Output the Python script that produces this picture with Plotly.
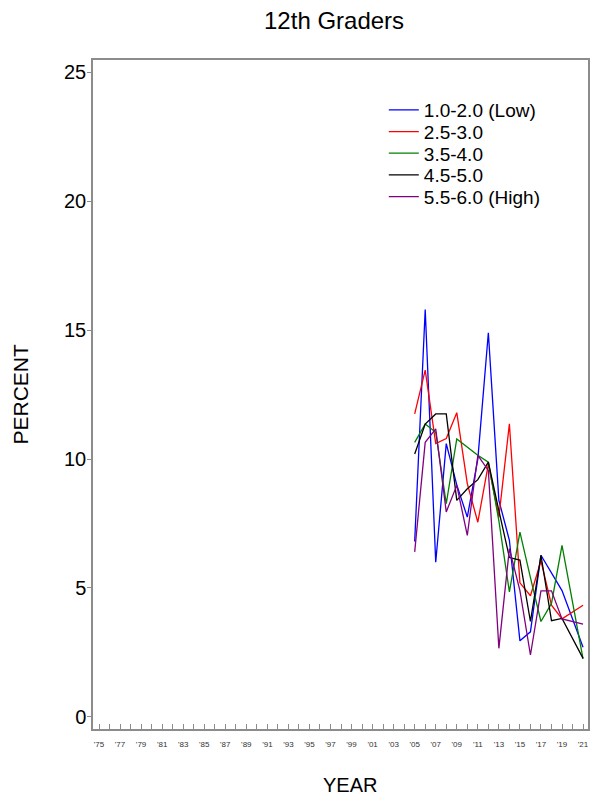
import plotly.graph_objects as go

years = [2005, 2006, 2007, 2008, 2009, 2010, 2011, 2012, 2013, 2014, 2015, 2016, 2017, 2018, 2019, 2021]

low_1_2 = [6.8, 15.8, 6.0, 10.6, 9.0, 7.75, 10.0, 14.9, 8.4, 6.85, 2.95, 3.3, 6.27, 5.6, 4.9, 2.7]
mid_2_3 = [11.75, 13.45, 10.6, 10.8, 11.8, 9.05, 7.55, 9.8, 7.75, 11.37, 5.2, 4.7, 6.05, 4.33, 3.8, 4.33]
mid_3_4 = [10.65, 11.36, 11.04, 8.27, 10.78, 10.45, 10.15, 9.88, 7.6, 4.85, 7.17, 5.4, 3.7, 4.4, 6.65, 2.25]
mid_4_5 = [10.2, 11.36, 11.75, 11.75, 8.4, 8.85, 9.2, 9.88, 8.0, 6.18, 6.08, 3.7, 6.27, 3.73, 3.82, 2.27]
high_5_6 = [6.4, 10.65, 11.17, 7.95, 8.98, 7.04, 10.14, 9.56, 2.66, 6.53, 4.9, 2.4, 4.89, 4.89, 3.8, 3.6]

series_names = ["1.0-2.0 (Low)", "2.5-3.0", "3.5-4.0", "4.5-5.0", "5.5-6.0 (High)"]
series_values = [low_1_2, mid_2_3, mid_3_4, mid_4_5, high_5_6]
series_colors = ["#0000FF", "#FF0000", "#008000", "#000000", "#800080"]

tick_years = list(range(1975, 2022))
tick_text = ["'%02d" % (y % 100) if (y - 1975) % 2 == 0 else "" for y in tick_years]
y_ticks = [0, 5, 10, 15, 20, 25]

FONT = "Arial, Liberation Sans, sans-serif"
AXIS_COLOR = "#8c8c8c"

W, H = 592, 798
ML, MR, MT, MB = 93, 2, 60, 69
plot_h = H - MT - MB

legend_names = ["legend", "legend2", "legend3", "legend4", "legend5"]
legend_rows_y = [110, 131.7, 153.3, 175, 196.7]

fig = go.Figure()
for name, vals, col, lg in zip(series_names, series_values, series_colors, legend_names):
    fig.add_trace(go.Scatter(x=years, y=vals, mode="lines", name=name, legend=lg,
                             line=dict(color=col, width=1.3)))

legend_layout = {}
for lg, py in zip(legend_names, legend_rows_y):
    legend_layout[lg] = dict(x=0.5875, y=1 - (py - MT) / plot_h, xanchor="left", yanchor="middle",
                             bgcolor="rgba(0,0,0,0)", font=dict(size=19, family=FONT, color="black"),
                             itemwidth=30)

fig.update_layout(
    width=W, height=H,
    margin=dict(l=ML, r=MR, t=MT, b=MB),
    paper_bgcolor="white", plot_bgcolor="white",
    font=dict(family=FONT, color="black"),
    title=dict(text="12th Graders", x=0.487, xref="paper", xanchor="center",
               y=1 - 21 / H, yref="container", yanchor="middle",
               font=dict(size=24, family=FONT, color="black")),
    showlegend=True,
    xaxis=dict(range=[1974.43, 2021.47], tickmode="array", tickvals=tick_years,
               ticktext=tick_text, ticks="inside", ticklen=5, tickcolor=AXIS_COLOR,
               tickfont=dict(size=8, color="#333333", family=FONT),
               ticklabelstandoff=7,
               showline=True, linecolor=AXIS_COLOR, linewidth=1.5, mirror=True,
               showgrid=False, zeroline=False),
    yaxis=dict(range=[-0.47, 25.48], tickmode="array", tickvals=y_ticks,
               ticks="outside", ticklen=4, tickcolor=AXIS_COLOR,
               tickfont=dict(size=20, color="black", family=FONT),
               ticklabelstandoff=-3,
               showline=True, linecolor=AXIS_COLOR, linewidth=1.5, mirror=True,
               showgrid=False, zeroline=False),
    annotations=[
        dict(text="YEAR", xref="paper", yref="paper", x=0.52, y=0,
             yshift=-56, xanchor="center", yanchor="middle", showarrow=False,
             font=dict(size=20, family=FONT, color="black")),
        dict(text="PERCENT", xref="paper", yref="paper", x=0, y=0.5,
             xshift=-73, yshift=0, textangle=-90, xanchor="center", yanchor="middle",
             showarrow=False, font=dict(size=21, family=FONT, color="black")),
    ],
    **legend_layout,
)

fig.write_html("out.html", config={"displayModeBar": False},
               post_script="document.body.style.margin='0';document.body.style.overflow='hidden';")
